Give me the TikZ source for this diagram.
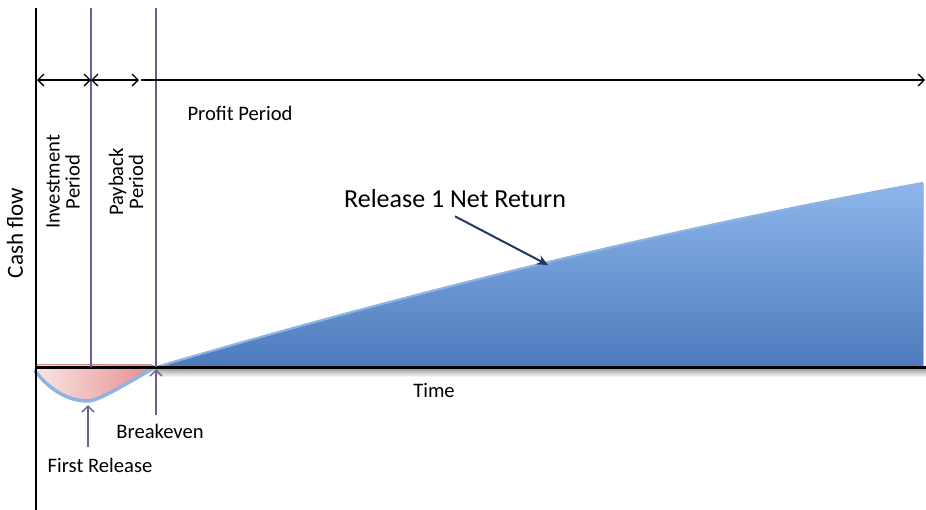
\documentclass[tikz,border=0pt]{standalone}
\usepackage{fontspec}
\setmainfont{Carlito}
\usetikzlibrary{arrows.meta}

\definecolor{divpurple}{RGB}{110,95,146}
\definecolor{navyarrow}{RGB}{31,58,96}
\definecolor{returntop}{RGB}{143,182,236}
\definecolor{returnbot}{RGB}{76,122,188}
\definecolor{edgeblue}{RGB}{142,180,227}
\definecolor{losspale}{RGB}{249,228,228}
\definecolor{lossdeep}{RGB}{230,140,140}
\definecolor{lossedge}{RGB}{205,90,90}

\begin{document}
\begin{tikzpicture}[x=1pt,y=-1pt,
  lbl/.style={font=\fontsize{20.6}{20}\selectfont, inner sep=0pt, align=center},
  axisline/.style={line width=2.6pt, black},
  divider/.style={line width=1.4pt, divpurple},
  span/.style={line width=1.4pt, black, {Straight Barb[length=6pt,width=12pt]}-{Straight Barb[length=6pt,width=12pt]}},
  spanend/.style={line width=1.4pt, black, -{Straight Barb[length=6pt,width=12pt]}},
  pointer/.style={line width=1.5pt, divpurple, -{Straight Barb[length=6pt,width=12pt]}},
  callout/.style={line width=2pt, navyarrow, -{Stealth[length=11pt,width=10pt]}},
]
\useasboundingbox (0,0) rectangle (926,509);

% key points of the chart
\coordinate (O) at (36,367);
\coordinate (Ytop) at (36,8);
\coordinate (Ybot) at (36,510);
\coordinate (Xend) at (926,367);
\coordinate (D1top) at (91,8);
\coordinate (D1bot) at (91,367);
\coordinate (BE) at (156,367);
\coordinate (D2top) at (156,8);
\coordinate (Low) at (88,401);
\coordinate (Top) at (923,183);
\coordinate (TopBase) at (923,367);

% period arrows along the top
\coordinate (S0) at (37,80);
\coordinate (S1) at (91,80);
\coordinate (S2) at (139,80);
\coordinate (S3) at (141,80);
\coordinate (S4) at (925,80);

% soft shadow under the time axis
\fill[top color=black!40, bottom color=white] (156,368) rectangle (926,377);

% net return area
\fill[top color=returntop, bottom color=returnbot]
  (BE) .. controls (412,292) and (667,229) .. (Top) -- (TopBase) -- cycle;
\draw[line width=2.2pt, edgeblue]
  (BE) .. controls (412,292) and (667,229) .. (Top);
\draw[line width=1pt, edgeblue!80!white] (Top) -- (TopBase);

% investment (loss) area
\fill[left color=losspale, right color=lossdeep]
  (36,364) -- (150,364) -- (BE)
  .. controls (135,378) and (100,401) .. (Low)
  .. controls (68,401) and (50,390) .. (36,370) -- cycle;
\draw[line width=1pt, lossedge!70!white] (37,364) -- (150,364);
\draw[line width=3.5pt, edgeblue, line cap=round]
  (35,371) .. controls (50,390) and (68,401) .. (Low)
  .. controls (100,401) and (135,378) .. (BE);

% axes
\draw[axisline] (Ytop) -- (Ybot);
\draw[axisline, line width=3pt] (O) -- (Xend);

% period dividers
\draw[divider] (D1top) -- (D1bot);
\draw[divider] (D2top) -- (BE);

\draw[span] (S0) -- (S1);
\draw[span] (S1) -- (S2);
\draw[spanend] (S3) -- (S4);

% labels
\node[lbl] (profit) at (240,113) {Profit Period};
\node[lbl, rotate=90] (invest) at (63,182) {Investment\\Period};
\node[lbl, rotate=90] (payback) at (126,182) {Payback\\Period};
\node[font=\fontsize{23}{24}\selectfont, inner sep=0pt, rotate=90] (cash) at (15,233) {Cash flow};
\node[font=\fontsize{26}{28}\selectfont, inner sep=0pt] (ret) at (455,199) {Release 1 Net Return};
\node[lbl] (time) at (434,390) {Time};
\node[lbl] (brk) at (160,431) {Breakeven};
\node[lbl] (first) at (100,465) {First Release};

% pointers
\coordinate (retTip) at (548,265);
\draw[callout] (ret.south) ++(0,8) -- (retTip);

\coordinate (firstBase) at (88,447);
\coordinate (lowTip) at (88,405);
\draw[pointer] (firstBase) -- (lowTip);

\coordinate (brkBase) at (156,415);
\coordinate (beTip) at (156,369);
\draw[pointer] (brkBase) -- (beTip);
\end{tikzpicture}
\end{document}
